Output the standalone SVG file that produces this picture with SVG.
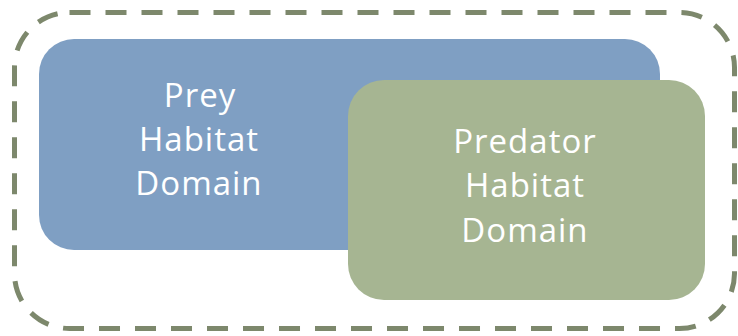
<svg xmlns="http://www.w3.org/2000/svg" width="738" height="336" viewBox="0 0 738 336">
  <style>
    .label { font-family: "Open Sans", Lato, "Liberation Sans", sans-serif; font-size: 33px; fill: #ffffff; text-anchor: middle; letter-spacing: 1px; }
    .boundary { fill: none; stroke: #7d886c; stroke-width: 5; stroke-dasharray: 21 15; }
  </style>
  <rect width="738" height="336" fill="#ffffff"/>
  <!-- dashed outer boundary -->
  <g id="boundary">
    <rect class="boundary" x="14.5" y="12.5" width="720" height="316" rx="55" ry="55"/>
  </g>
  <!-- prey habitat -->
  <g id="prey">
    <rect x="39" y="39" width="621" height="211" rx="35" ry="35" fill="#7f9fc3"/>
    <text class="label" x="200" y="107">Prey</text>
    <text class="label" x="199" y="151">Habitat</text>
    <text class="label" x="199" y="195">Domain</text>
  </g>
  <!-- predator habitat -->
  <g id="predator">
    <rect x="348" y="80" width="357" height="220" rx="36" ry="36" fill="#a6b592"/>
    <text class="label" x="525" y="153">Predator</text>
    <text class="label" x="525" y="197">Habitat</text>
    <text class="label" x="525" y="242">Domain</text>
  </g>
</svg>
